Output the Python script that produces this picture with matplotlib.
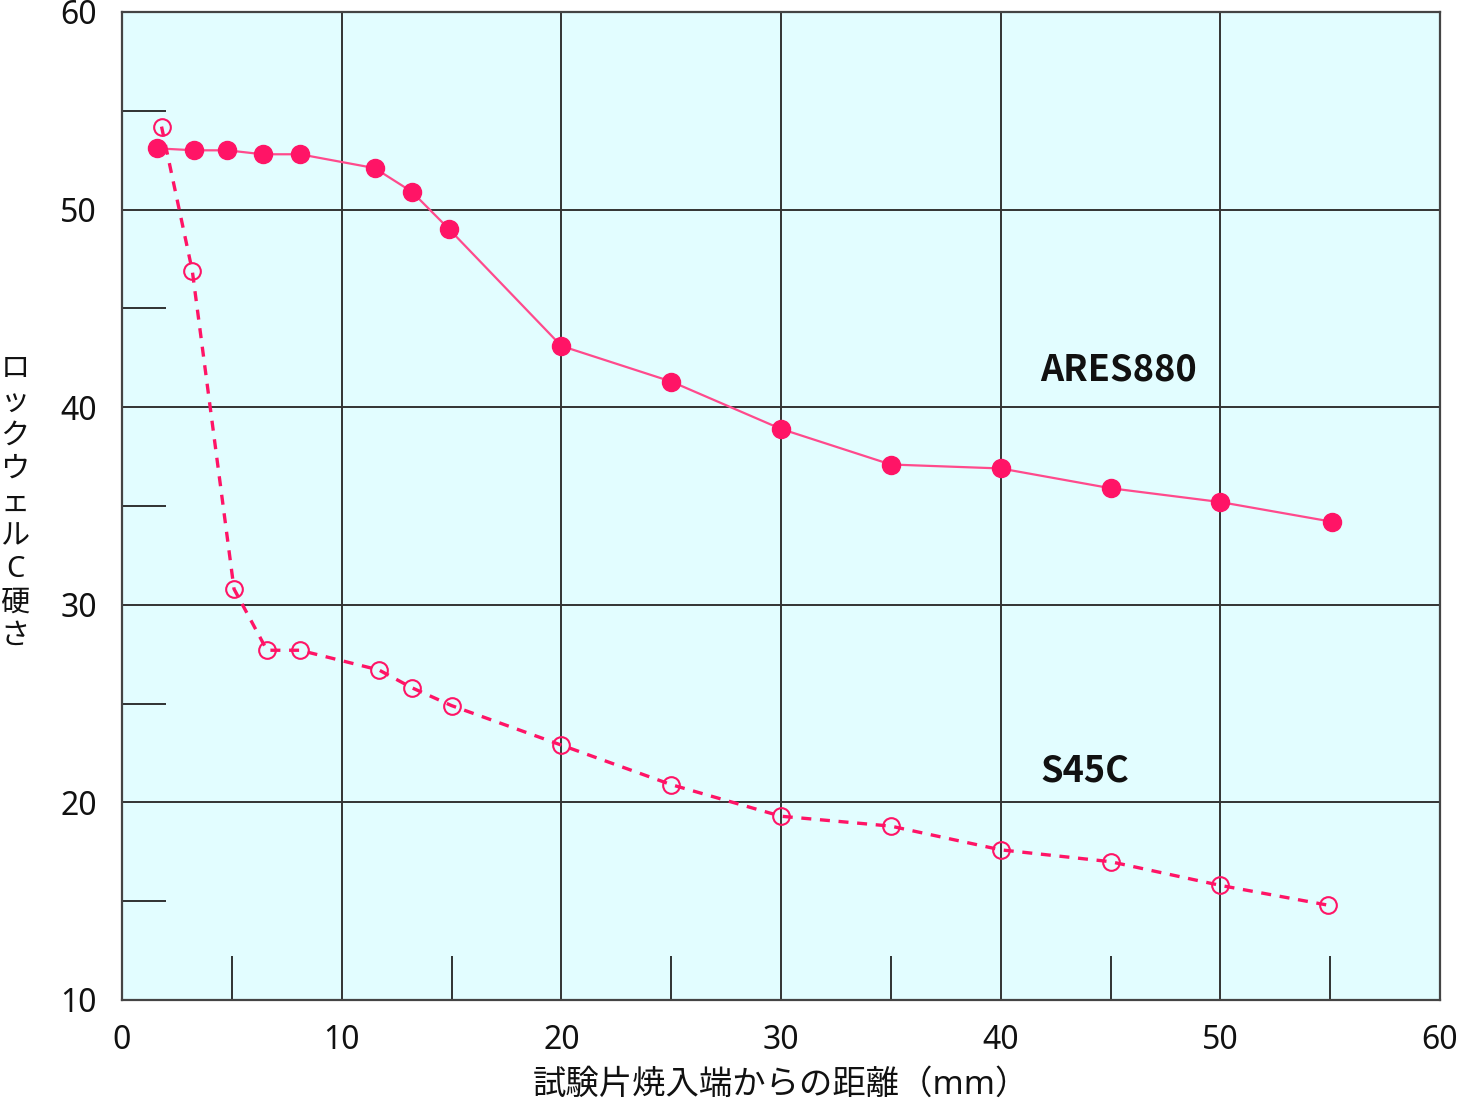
import matplotlib
matplotlib.use("Agg")
import matplotlib.pyplot as plt
from matplotlib.ticker import MultipleLocator

plt.rcParams['font.family'] = ['Noto Sans', 'Noto Sans CJK JP', 'DejaVu Sans']

# ─── data ───
ares_x = [1.6, 3.3, 4.8, 6.4, 8.1, 11.5, 13.2, 14.9, 20, 25, 30, 35, 40, 45, 50, 55.1]
ares_y = [53.1, 53.0, 53.0, 52.8, 52.8, 52.1, 50.9, 49.0, 43.1, 41.3, 38.9, 37.1, 36.9, 35.9, 35.2, 34.2]

s45c_x = [1.8, 3.2, 5.1, 6.6, 8.1, 11.7, 13.2, 15.0, 20, 25, 30, 35, 40, 45, 50, 54.9]
s45c_y = [54.2, 46.9, 30.8, 27.7, 27.7, 26.7, 25.8, 24.9, 22.9, 20.9, 19.3, 18.8, 17.6, 17.0, 15.8, 14.8]

x_ticks = [0, 10, 20, 30, 40, 50, 60]
y_ticks = [10, 20, 30, 40, 50, 60]

PINK = '#FF1466'
LINE_PINK = '#FF4A8C'
GRID = '#333333'
TXT = '#111111'

fig = plt.figure(figsize=(14.62, 11.04), dpi=100)
ax = fig.add_axes([122 / 1462, 1 - 1000 / 1104, (1440 - 122) / 1462, (1000 - 12) / 1104])
ax.set_facecolor('#E2FDFF')

ax.set_xlim(0, 60)
ax.set_ylim(10, 60)
ax.set_xticks(x_ticks)
ax.set_yticks(y_ticks)
ax.xaxis.set_minor_locator(MultipleLocator(5))
ax.yaxis.set_minor_locator(MultipleLocator(5))

ax.grid(True, which='major', color=GRID, lw=1.4)
ax.set_axisbelow(True)
for s in ax.spines.values():
    s.set_color('#444444')
    s.set_linewidth(1.6)

ax.tick_params(which='major', length=0, labelsize=23, colors=TXT)
ax.tick_params(axis='y', which='major', pad=18)
ax.tick_params(axis='x', which='major', pad=17)
ax.tick_params(which='minor', direction='in', length=32, width=1.3, color='#222222')

ax.plot(ares_x, ares_y, '-', color=LINE_PINK, lw=1.6, zorder=3)
ax.plot(ares_x, ares_y, 'o', color=PINK, ms=13, zorder=4)

ax.plot(s45c_x, s45c_y, '--', color=PINK, lw=2.4, dashes=(3, 2.6), zorder=3)
ax.plot(s45c_x, s45c_y, 'o', mfc='none', mec=PINK, ms=12, mew=1.5, zorder=4)

ax.text(41.8, 41.9, 'ARES880', fontsize=26, fontweight='bold', va='center', ha='left',
        color=TXT, family='Noto Sans CJK JP')
ax.text(41.8, 21.6, 'S45C', fontsize=26, fontweight='bold', va='center', ha='left',
        color=TXT, family='Noto Sans CJK JP')

ax.set_xlabel('試験片焼入端からの距離（mm）', fontsize=24, labelpad=9, color=TXT)
fig.text(15 / 1462, 1 - 503 / 1104, '\n'.join('ロックウェルC硬さ'), fontsize=21,
         ha='center', va='center', linespacing=1.2, color=TXT)

fig.savefig('out.png', dpi=100, facecolor='white')
